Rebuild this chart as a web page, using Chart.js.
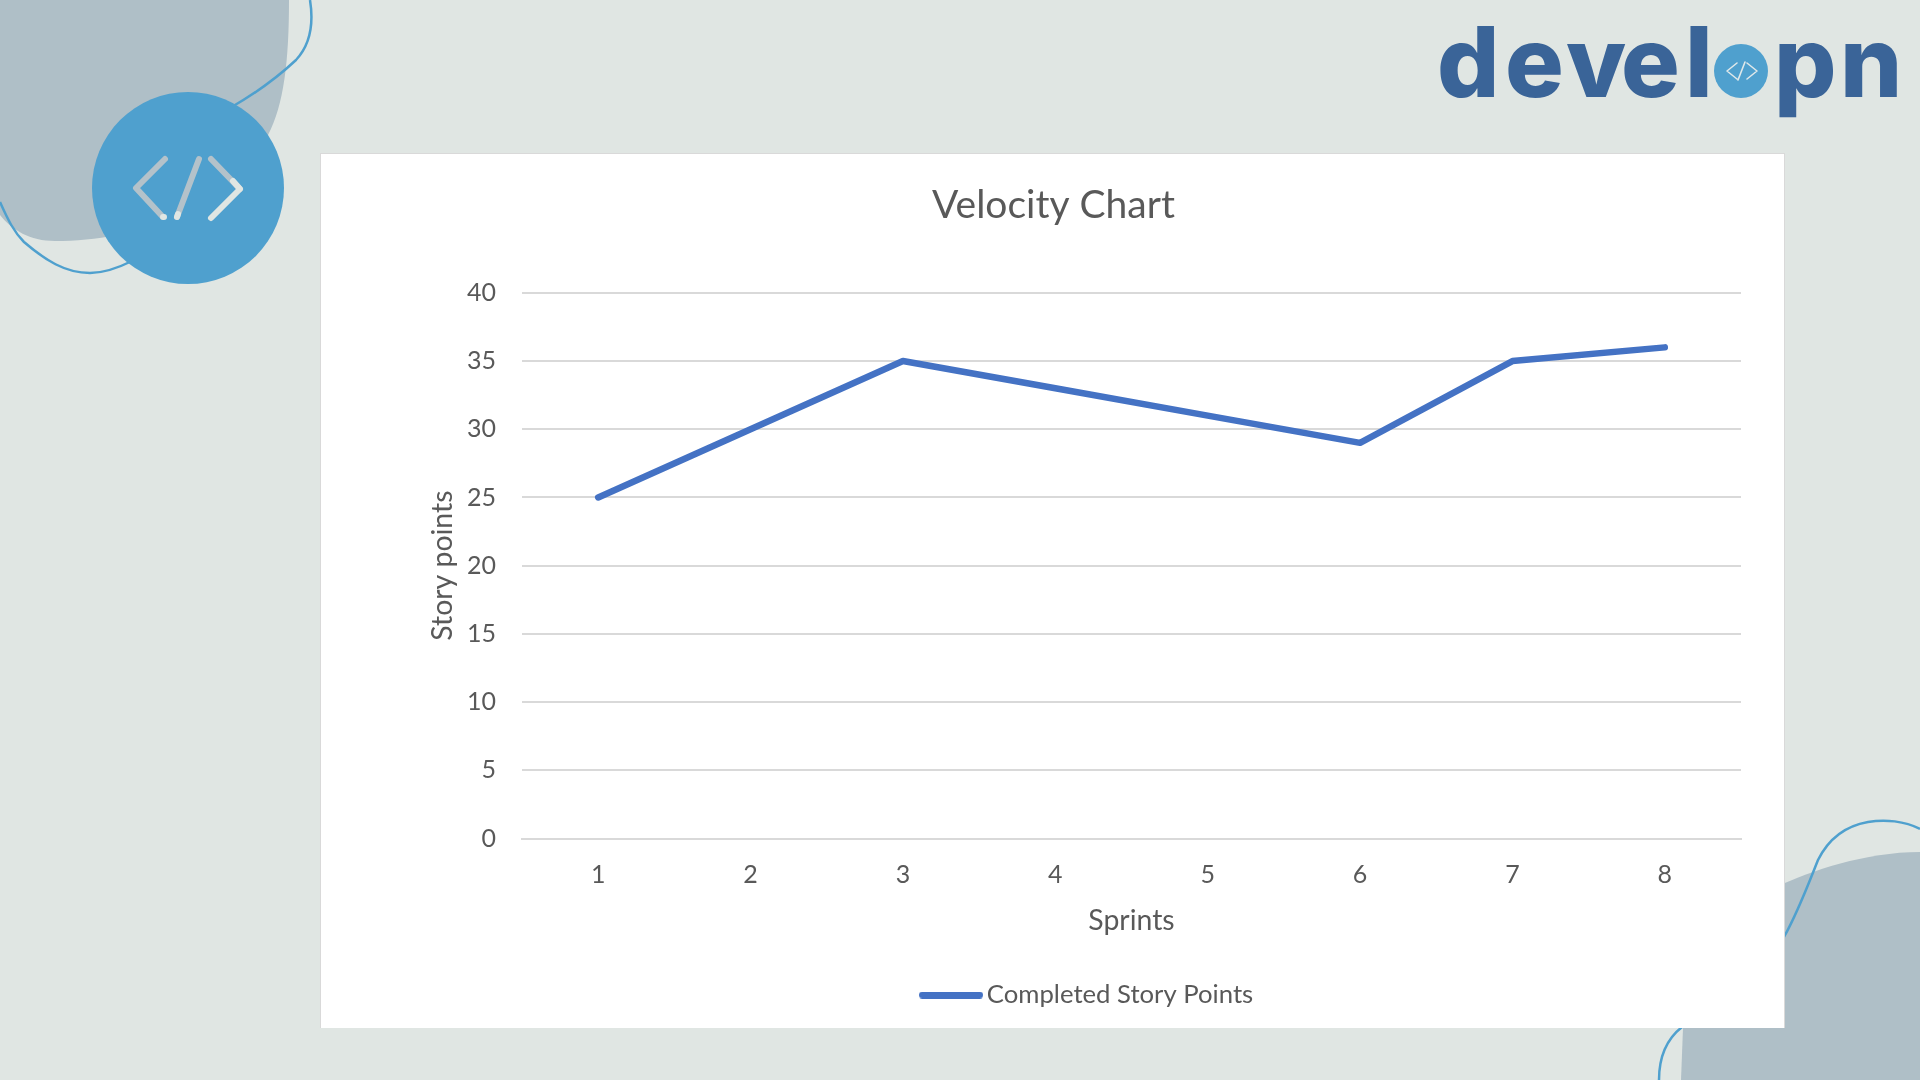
<!DOCTYPE html>
<html><head><meta charset="utf-8">
<script src="https://cdn.jsdelivr.net/npm/chart.js@4/dist/chart.umd.min.js"></script>
<style>
html,body{margin:0;padding:0;width:1920px;height:1080px;overflow:hidden;background:#E0E6E3}
#deco{position:absolute;left:0;top:0}
#card{position:absolute;left:320px;top:153px;width:1463px;height:874px;background:#fff;border:1px solid #D9D9D9;border-bottom:none}
#wrap{position:absolute;left:320px;top:153px;width:1465px;height:875px}
</style></head><body>
<svg id="deco" width="1920" height="1080" viewBox="0 0 1920 1080" fill="none">
 <path d="M0,0H289C289,60 284,105 268,135C240,200 150,241 55,241C30,241 12,230 0,215Z" fill="#AFBFC7"/>
 <path d="M1920,852C1860,852 1800,875 1770,890C1720,920 1690,980 1683,1028L1681,1080H1920Z" fill="#AFBFC7"/>
 <g stroke="#4FA0CE" stroke-width="2.5">
  <path d="M310,0C314,25 310,45 296,60C280,75 258,92 230,108"/>
  <path d="M0,202C8,220 14,232 24,242C45,260 65,273 90,273C105,273 118,268 132,261"/>
  <path d="M1920,829C1905,821 1885,819 1868,822C1845,826 1828,840 1818,860C1808,885 1798,912 1784,937"/>
  <path d="M1682,1027C1668,1038 1659,1055 1659,1080"/>
 </g>
 <circle cx="188" cy="188" r="96" fill="#4FA0CE"/>
 <g stroke-width="6" stroke-linecap="round" stroke-linejoin="round">
  <path d="M165,159L136,188L162,216" stroke="#B4C2CA"/>
  <path d="M199,159L177,217" stroke="#B4C2CA"/>
  <path d="M211,159L240,189" stroke="#B4C2CA"/>
  <path d="M233,181L240,189L211,218" stroke="#E0E6E3"/>
  <path d="M163,217L164,217M178,214L177,217" stroke="#E0E6E3"/>
 </g>
 <text x="1437 1505 1566 1621 1685" y="97" font-family="Inter" font-weight="800" font-size="98" fill="#3A6498">devel</text>
 <circle cx="1741" cy="71" r="27" fill="#4FA0CE"/>
 <path d="M1737,63L1727,71L1737,79M1745,62L1738,80M1747,63L1757,71L1747,79" stroke="#DFE8EA" stroke-width="1.6" stroke-linecap="round" stroke-linejoin="round"/>
 <text x="1774 1840" y="97" font-family="Inter" font-weight="800" font-size="98" fill="#3A6498">pn</text>
</svg>
<div id="card"></div>
<div id="wrap"><canvas id="c" width="1465" height="875"></canvas></div>
<script>
const sprints = ['1','2','3','4','5','6','7','8'];
const completedStoryPoints = [25,30,35,33,31,29,35,36];
const seriesName = 'Completed Story Points';
const chartTitle = 'Velocity Chart';
const xTitle = 'Sprints';
const yTitle = 'Story points';

const BLUE = '#4472C4', TEXT = '#595959', GRID = '#D9D9D9';
const fontFamily = 'Lato, Carlito, sans-serif';

const swatch = document.createElement('canvas');
swatch.width = 64; swatch.height = 7;
const sc = swatch.getContext('2d');
sc.fillStyle = BLUE;
sc.beginPath(); sc.roundRect(0,0,64,7,3.5); sc.fill();

const legendPlacer = {
  id:'legendPlacer',
  afterLayout(chart){
    const l = chart.legend, w = l.width;
    const h = l.height;
    l.left = 598; l.right = 598 + w;
    l.top = 842 - h/2; l.bottom = l.top + h;
  }
};

new Chart(document.getElementById('c'), {
  type:'line',
  data:{labels:sprints,datasets:[{
    label:seriesName,data:completedStoryPoints,borderColor:BLUE,backgroundColor:BLUE,
    borderWidth:6.5,tension:0,pointRadius:0,borderCapStyle:'round',borderJoinStyle:'round',
    pointStyle:swatch
  }]},
  plugins:[legendPlacer],
  options:{
    responsive:false,animation:false,
    layout:{padding:{left:46,right:44,top:0,bottom:0}},
    plugins:{
      tooltip:{enabled:false},
      title:{display:true,text:chartTitle,color:TEXT,font:{family:fontFamily,size:39,weight:'normal'},padding:{top:29,bottom:64}},
      legend:{display:true,position:'bottom',align:'start',
        labels:{usePointStyle:true,pointStyleWidth:46,color:TEXT,font:{family:fontFamily,size:25.7},padding:10}}
    },
    scales:{
      x:{offset:true,
        grid:{display:false,drawTicks:false},
        border:{display:true,color:GRID,width:2},
        ticks:{color:TEXT,font:{family:fontFamily,size:25},padding:21.5,maxRotation:0},
        title:{display:true,text:xTitle,color:TEXT,font:{family:fontFamily,size:28.4},padding:{top:0,bottom:44}},
        afterFit(s){ s.height = 875-685.5-s.chart.legend.height; }
      },
      y:{min:0,max:40,
        grid:{color:GRID,lineWidth:2,drawTicks:false},
        border:{display:false},
        ticks:{stepSize:5,color:TEXT,font:{family:fontFamily,size:25},padding:26},
        title:{display:true,text:yTitle,color:TEXT,font:{family:fontFamily,size:28.4},padding:{top:60,bottom:0}},
        afterFit(s){ s.width = 156; }
      }
    }
  }
});
</script>
</body></html>
